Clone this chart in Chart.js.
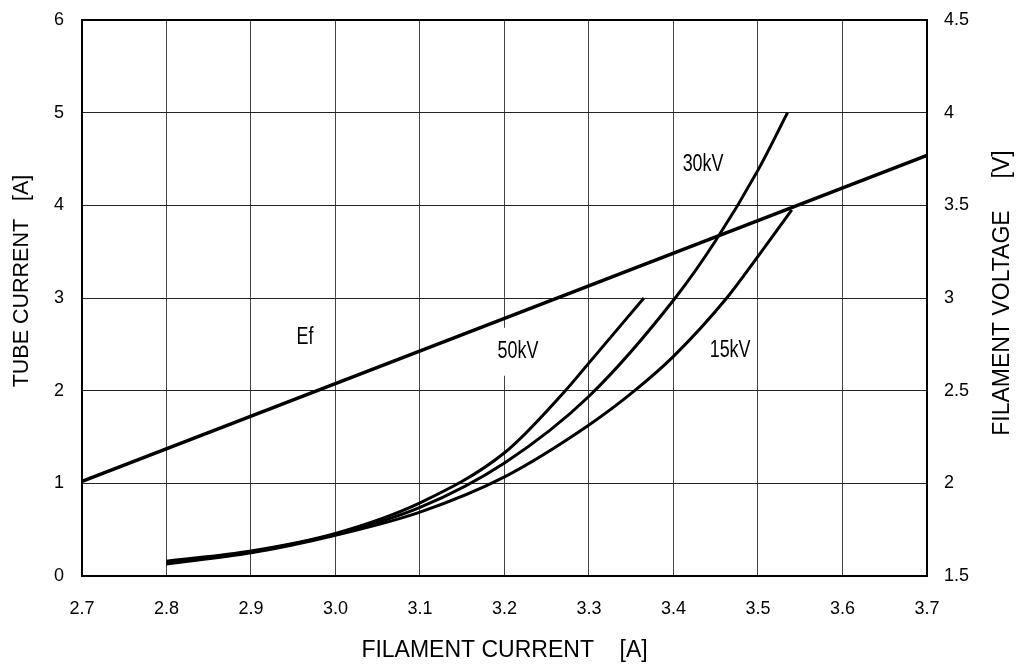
<!DOCTYPE html>
<html>
<head>
<meta charset="utf-8">
<script src="https://cdn.jsdelivr.net/npm/chart.js@4"></script>
<style>
  html, body { margin: 0; padding: 0; background: #fff; }
  #wrap { width: 1017px; height: 668px; }
</style>
</head>
<body>
<div id="wrap"><canvas id="tubeChart"></canvas></div>
<script>
// filament voltage Ef (right axis, V)
const efX = [2.7, 3.7];
const efV = [2.01, 3.77];

// tube current curves (left axis, A)
const kv50X = [2.8, 2.9, 3.0, 3.1, 3.2, 3.272, 3.3, 3.365];
const kv50Y = [0.16, 0.27, 0.46, 0.79, 1.33, 2.0, 2.3, 3.0];

const kv30X = [2.8, 2.9, 3.0, 3.1, 3.2, 3.3, 3.402, 3.45, 3.5, 3.535];
const kv30Y = [0.14, 0.26, 0.45, 0.74, 1.22, 1.94, 3.0, 3.62, 4.38, 5.0];

const kv15X = [2.8, 2.9, 3.0, 3.1, 3.2, 3.3, 3.354, 3.4, 3.463, 3.5, 3.54];
const kv15Y = [0.13, 0.25, 0.44, 0.69, 1.07, 1.63, 2.0, 2.37, 3.0, 3.45, 3.95];

// curve labels, placed in data coords (left axis)
const labelText = ["Ef", "50kV", "30kV", "15kV"];
const labelX = [2.964, 3.216, 3.435, 3.467];
const labelY = [2.57, 2.42, 4.44, 2.43];

const sans = "'Liberation Sans', Arial, sans-serif";

function pts(xs, ys) {
    return xs.map((x, i) => ({ x: x, y: ys[i] }));
}

function curve(xs, ys, axis, width) {
    return {
        data: pts(xs, ys),
        yAxisID: axis,
        showLine: true,
        borderColor: '#000',
        borderWidth: width,
        pointRadius: 0,
        cubicInterpolationMode: 'monotone',
        fill: false
    };
}

function vertTitle(ctx, text, x, y, size) {
    ctx.save();
    ctx.font = size + "px " + sans;
    ctx.fillStyle = '#000';
    ctx.textAlign = 'center';
    ctx.textBaseline = 'middle';
    ctx.translate(x, y);
    ctx.rotate(-Math.PI / 2);
    ctx.fillText(text, 0, 0);
    ctx.restore();
}

const extras = {
    id: 'extras',
    afterDatasetsDraw(chart) {
        const ctx = chart.ctx;
        const a = chart.chartArea;
        const sx = chart.scales.x, sy = chart.scales.y;

        // frame
        ctx.save();
        ctx.strokeStyle = '#000';
        ctx.lineWidth = 2;
        ctx.strokeRect(a.left, a.top, a.right - a.left, a.bottom - a.top);

        // curve labels (condensed look)
        ctx.font = "23px " + sans;
        ctx.textAlign = 'center';
        ctx.textBaseline = 'middle';
        labelText.forEach((t, i) => {
            const px = sx.getPixelForValue(labelX[i]);
            const py = sy.getPixelForValue(labelY[i]);
            const w = ctx.measureText(t).width * 0.78;
            ctx.fillStyle = '#fff';
            ctx.fillRect(px - w / 2 - 3, py - 24, w + 6, 48);
            ctx.save();
            ctx.translate(px, py);
            ctx.scale(0.78, 1);
            ctx.fillStyle = '#000';
            ctx.fillText(t, 0, 0);
            ctx.restore();
        });
        ctx.restore();

        vertTitle(ctx, "TUBE CURRENT   [A]", 22, 281, 21.5);
        vertTitle(ctx, "FILAMENT VOLTAGE     [V]", 1003, 293, 23);
    }
};

function fixY(width) {
    return s => {
        s.width = width;
        s.paddingTop = 0;
        s.paddingBottom = 0;
    };
}

const ctx = document.getElementById('tubeChart').getContext('2d');

new Chart(ctx, {
    type: 'scatter',
    data: {
        datasets: [
            curve(efX, efV, 'y2', 3.5),
            curve(kv50X, kv50Y, 'y', 3),
            curve(kv30X, kv30Y, 'y', 3),
            curve(kv15X, kv15Y, 'y', 3)
        ]
    },
    options: {
        responsive: true,
        maintainAspectRatio: false,
        animation: false,
        layout: { padding: { top: 20, left: 0, right: 0, bottom: 0 } },
        plugins: {
            legend: { display: false },
            tooltip: { enabled: false }
        },
        scales: {
            x: {
                type: 'linear',
                min: 2.7,
                max: 3.7,
                ticks: {
                    stepSize: 0.1,
                    padding: 22,
                    color: '#000',
                    font: { family: sans, size: 18 },
                    callback: v => v.toFixed(1)
                },
                grid: { color: '#444', lineWidth: 1, drawTicks: false },
                border: { color: '#000', width: 2 },
                title: {
                    display: true,
                    text: 'FILAMENT CURRENT    [A]',
                    color: '#000',
                    font: { family: sans, size: 23 },
                    padding: { top: 0, bottom: 4 }
                },
                afterFit: s => {
                    s.height = 92;
                    s.paddingLeft = 0;
                    s.paddingRight = 0;
                }
            },
            y: {
                position: 'left',
                min: 0,
                max: 6,
                ticks: {
                    stepSize: 1,
                    padding: 18,
                    color: '#000',
                    font: { family: sans, size: 18 }
                },
                grid: { color: '#222', lineWidth: 1, drawTicks: false },
                border: { color: '#000', width: 2 },
                afterFit: fixY(82)
            },
            y2: {
                position: 'right',
                min: 1.5,
                max: 4.5,
                ticks: {
                    stepSize: 0.5,
                    padding: 17,
                    color: '#000',
                    font: { family: sans, size: 18 },
                    callback: v => String(v)
                },
                grid: { display: false, drawTicks: false },
                border: { color: '#000', width: 2 },
                afterFit: fixY(90)
            }
        }
    },
    plugins: [extras]
});
</script>
</body>
</html>
